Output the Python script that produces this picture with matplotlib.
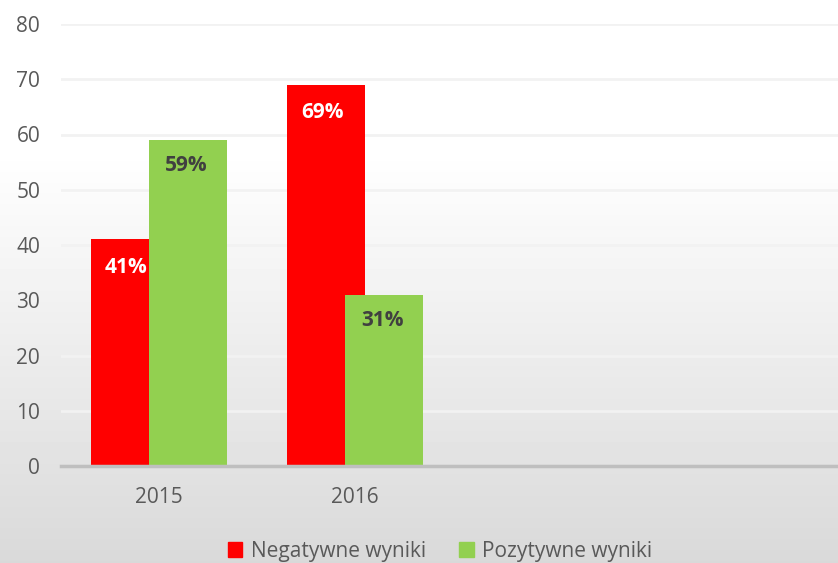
import numpy as np
import matplotlib
matplotlib.use('Agg')
import matplotlib.pyplot as plt
from matplotlib.patches import Patch

#### data
categories = ['2015', '2016', '', '']
negatywne = [41, 69]
pozytywne = [59, 31]
neg_labels = ['41%', '69%']
poz_labels = ['59%', '31%']

RED = '#FF0000'
GREEN = '#92D050'
TXT = '#595959'

plt.rcParams['font.family'] = ['Open Sans', 'DejaVu Sans']

W, H = 838, 563
fig = plt.figure(figsize=(W / 100, H / 100), dpi=100)

# gradient background (white on top, gray on bottom)
bg = fig.add_axes([0, 0, 1, 1], zorder=-10)
rows = np.linspace(0, 1, H)  # 0 top, 1 bottom
start = 150 / H
vals = np.where(rows < start, 255, 255 - (rows - start) / (1 - start) * 38) / 255.0
grad = np.tile(vals[:, None], (1, 4))
bg.imshow(grad, cmap='gray', vmin=0, vmax=1, aspect='auto', extent=[0, 1, 0, 1])
bg.set_axis_off()

# axes: left 61px, bottom y=0 at 466px, top y=80 at 24px, 4 categories of 196px
left = 61 / W
bottom = (H - 466) / H
height = (466 - 24) / H
width = 784 / W
ax = fig.add_axes([left, bottom, width, height])
ax.patch.set_alpha(0)

x = np.arange(len(negatywne))
bw = 0.398
off = 0.148
b1 = ax.bar(x - off, negatywne, bw, color=RED, zorder=3)
b2 = ax.bar(x + off, pozytywne, bw, color=GREEN, zorder=4)

for rect, lab in zip(b1, neg_labels):
    ax.text(rect.get_x() + rect.get_width() / 2 - 0.02, rect.get_height() - 5.1, lab,
            ha='center', va='center', color='white', fontsize=15,
            fontweight='bold', zorder=6)
for rect, lab in zip(b2, poz_labels):
    ax.text(rect.get_x() + rect.get_width() / 2 - 0.01, rect.get_height() - 4.6, lab,
            ha='center', va='center', color='#404040', fontsize=15,
            fontweight='bold', zorder=6)

ax.set_xlim(-0.5, len(categories) - 0.5)
ax.set_ylim(0, 80)
ax.set_yticks(range(0, 81, 10))
ax.set_xticks(range(len(categories)))
ax.set_xticklabels(categories)
ax.grid(axis='y', color='#F2F2F2', linewidth=2, zorder=1)
ax.set_axisbelow(True)
for s in ['top', 'right', 'left']:
    ax.spines[s].set_visible(False)
ax.spines['bottom'].set_color('#BFBFBF')
ax.spines['bottom'].set_linewidth(2.5)
ax.spines['bottom'].set_zorder(5)
ax.tick_params(axis='both', length=0, colors=TXT, labelsize=15)
ax.tick_params(axis='y', pad=15)
ax.tick_params(axis='x', pad=15)

handles = [Patch(color=RED, label='Negatywne wyniki'),
           Patch(color=GREEN, label='Pozytywne wyniki')]
leg = fig.legend(handles=handles, loc='center', bbox_to_anchor=(440 / W, 1 - 551 / H),
                 ncol=2, frameon=False, fontsize=15, handlelength=0.7,
                 handleheight=0.7, handletextpad=0.4, columnspacing=1.6)
for t in leg.get_texts():
    t.set_color(TXT)

fig.savefig('out.png', dpi=100)
